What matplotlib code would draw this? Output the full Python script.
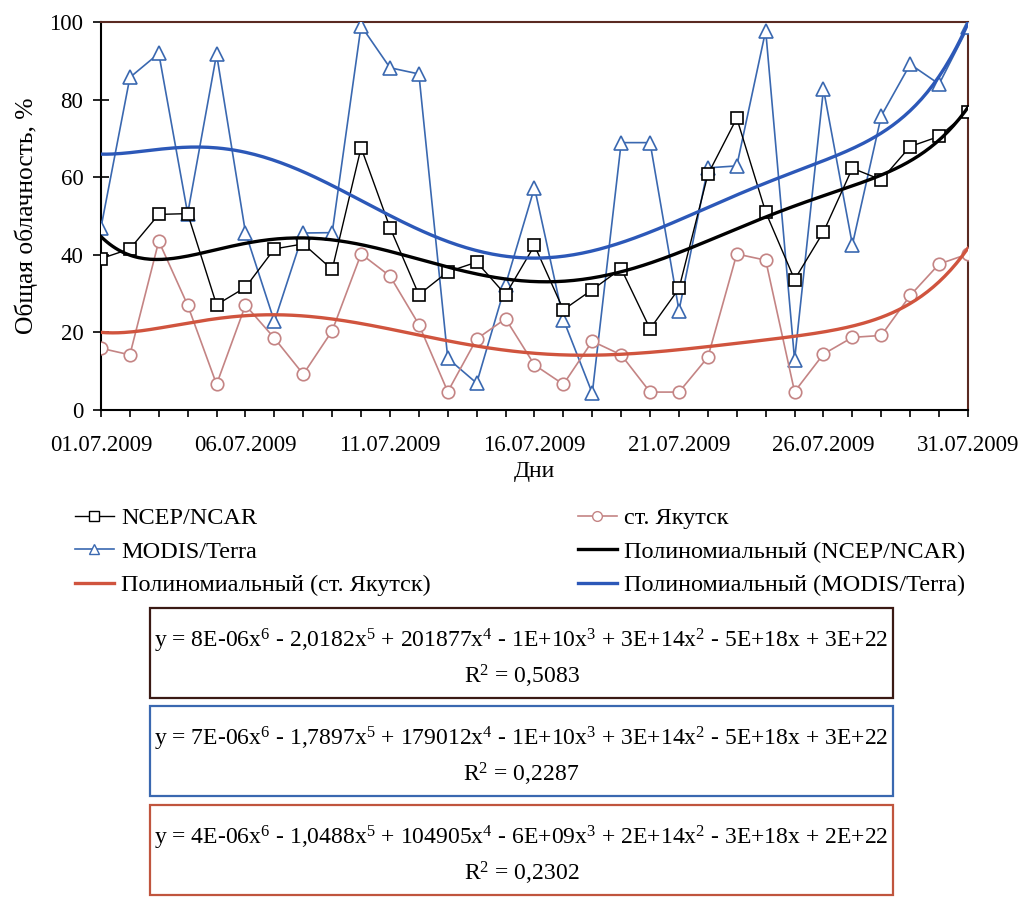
import numpy as np
import matplotlib
matplotlib.use("Agg")
import matplotlib.pyplot as plt
from matplotlib.lines import Line2D
from matplotlib.patches import Rectangle

plt.rcParams['font.family'] = ['Liberation Serif', 'DejaVu Serif']
plt.rcParams['mathtext.fontset'] = 'custom'
plt.rcParams['mathtext.rm'] = 'Liberation Serif'
plt.rcParams['mathtext.it'] = 'Liberation Serif:italic'

days = list(range(1, 32))
tick_days = [1, 6, 11, 16, 21, 26, 31]
tick_labels = ["01.07.2009", "06.07.2009", "11.07.2009", "16.07.2009",
               "21.07.2009", "26.07.2009", "31.07.2009"]

ncep = [39, 41.5, 50.4, 50.6, 27.1, 31.6, 41.5, 42.8, 36.2, 67.6, 47,
        29.7, 35.6, 38.1, 29.7, 42.4, 25.8, 31, 36.4, 20.9, 31.3,
        60.7, 75.2, 51, 33.6, 45.9, 62.3, 59.3, 67.9, 70.5, 76.9]
modis = [47, 85.7, 91.9, 50.6, 91.7, 45.7, 22.8, 45.6, 45.7, 99, 88.2,
         86.6, 13.3, 6.9, 32.3, 57.3, 23.3, 4.3, 68.9, 68.9, 25.6,
         62.4, 62.9, 97.8, 12.9, 82.7, 42.6, 75.8, 89.1, 84, 98.6]
yakutsk = [15.9, 14.2, 43.5, 27, 6.6, 27, 18.5, 9.2, 20.4, 40.2, 34.5,
           22, 4.7, 18.3, 23.5, 11.6, 6.6, 17.7, 14.2, 4.6, 4.6,
           13.6, 40.2, 38.6, 4.7, 14.4, 18.7, 19.2, 29.5, 37.6, 40.2]

legend_left = ["NCEP/NCAR", "MODIS/Terra", "Полиномиальный (ст. Якутск)"]
legend_right = ["ст. Якутск", "Полиномиальный (NCEP/NCAR)", "Полиномиальный (MODIS/Terra)"]
equations = [
    (r"y = 8E-06x$^{6}$ - 2,0182x$^{5}$ + 201877x$^{4}$ - 1E+10x$^{3}$ + 3E+14x$^{2}$ - 5E+18x + 3E+22", "R$^{2}$ = 0,5083"),
    (r"y = 7E-06x$^{6}$ - 1,7897x$^{5}$ + 179012x$^{4}$ - 1E+10x$^{3}$ + 3E+14x$^{2}$ - 5E+18x + 3E+22", "R$^{2}$ = 0,2287"),
    (r"y = 4E-06x$^{6}$ - 1,0488x$^{5}$ + 104905x$^{4}$ - 6E+09x$^{3}$ + 2E+14x$^{2}$ - 3E+18x + 2E+22", "R$^{2}$ = 0,2302"),
]

c_ncep = "#000000"
c_modis = "#3a68b0"
c_yak = "#c48484"
c_tr_ncep = "#000000"
c_tr_modis = "#2c58b8"
c_tr_yak = "#d0543e"

fig = plt.figure(figsize=(10.2, 8.97), dpi=100)
ax = fig.add_axes([0.099, 0.543, 0.85, 0.4325])

x = np.array(days, dtype=float)
xs = np.linspace(1, 31, 300)

def trend(vals):
    p = np.polyfit(x, np.array(vals), 6)
    return np.polyval(p, xs)

ax.plot(days, modis, color=c_modis, lw=1.2, marker='^', ms=10,
        mfc='white', mec=c_modis, mew=1.2, zorder=3)
ax.plot(days, yakutsk, color=c_yak, lw=1.2, marker='o', ms=9,
        mfc='white', mec=c_yak, mew=1.2, zorder=3)
ax.plot(days, ncep, color=c_ncep, lw=1.0, marker='s', ms=9,
        mfc='white', mec=c_ncep, mew=1.2, zorder=4)
ax.plot(xs, trend(modis), color=c_tr_modis, lw=2.4, zorder=5)
ax.plot(xs, trend(yakutsk), color=c_tr_yak, lw=2.4, zorder=5)
ax.plot(xs, trend(ncep), color=c_tr_ncep, lw=2.4, zorder=5)

ax.set_xlim(1, 31)
ax.set_ylim(0, 100)
ax.set_xticks(days)
ax.set_xticklabels([tick_labels[tick_days.index(d)] if d in tick_days else "" for d in days])
ax.set_yticks([0, 20, 40, 60, 80, 100])
ax.tick_params(axis='x', direction='out', length=5, width=1.2, pad=13,
               labelsize=16.5)
ax.tick_params(axis='y', direction='inout', length=11.5, width=1.2, pad=7,
               labelsize=16.5)
for s in ['left', 'bottom']:
    ax.spines[s].set_color('black')
    ax.spines[s].set_linewidth(1.5)
for s in ['top', 'right']:
    ax.spines[s].set_color('#5a2a22')
    ax.spines[s].set_linewidth(1.5)
ax.set_xlabel("Дни", fontsize=17, labelpad=4)
ax.set_ylabel("Общая облачность, %", fontsize=18.4, labelpad=8)

h_left = [
    Line2D([], [], color=c_ncep, lw=1.0, marker='s', ms=7, mfc='white', mec=c_ncep),
    Line2D([], [], color=c_modis, lw=1.2, marker='^', ms=7, mfc='white', mec=c_modis),
    Line2D([], [], color=c_tr_yak, lw=2.4),
]
h_right = [
    Line2D([], [], color=c_yak, lw=1.2, marker='o', ms=7, mfc='white', mec=c_yak),
    Line2D([], [], color=c_tr_ncep, lw=2.4),
    Line2D([], [], color=c_tr_modis, lw=2.4),
]
common = dict(loc='upper left', frameon=False, fontsize=17.5, handlelength=1.6,
              handletextpad=0.3, labelspacing=0.48, borderpad=0, borderaxespad=0)
fig.legend(h_left, legend_left, bbox_to_anchor=(75 / 1020, 1 - 507 / 897), **common)
fig.legend(h_right, legend_right, bbox_to_anchor=(578 / 1020, 1 - 507 / 897), **common)

box_cols = ["#3a1a14", "#3a68b0", "#c0553e"]
box_tops = [608, 706, 805]
W, H = 1020.0, 897.0
for (eq, r2), col, top in zip(equations, box_cols, box_tops):
    x0, x1 = 150 / W, 893 / W
    y0 = 1 - (top + 90) / H
    fig.patches.append(Rectangle((x0, y0), x1 - x0, 90 / H, transform=fig.transFigure,
                                 fill=False, edgecolor=col, lw=1.6))
    cx = (x0 + x1) / 2
    fig.text(cx, 1 - (top + 33) / H, eq, ha='center', va='center', fontsize=17.0)
    fig.text(cx, 1 - (top + 68) / H, r2, ha='center', va='center', fontsize=17.0)

fig.savefig("out.png", dpi=100)
